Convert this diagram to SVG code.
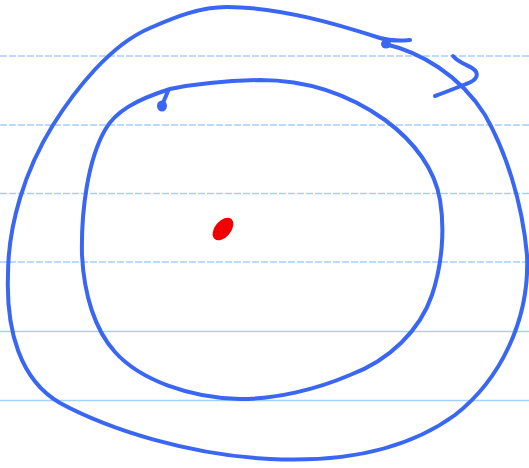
<svg xmlns="http://www.w3.org/2000/svg" width="529" height="468" viewBox="0 0 529 468">
<style>
.rule{stroke:#a6d0fb;stroke-width:1.3;fill:none}
.dash{stroke-dasharray:7 2}
.ink{stroke:#3966f2;stroke-width:4;fill:none;stroke-linecap:round;stroke-linejoin:round}
.blob{fill:#3966f2}
</style>
<rect width="529" height="468" fill="#ffffff"/>
<g id="rules">
<line class="rule dash" x1="0" y1="56" x2="529" y2="56"/>
<line class="rule dash" x1="0" y1="125" x2="529" y2="125"/>
<line class="rule dash" x1="0" y1="193.5" x2="529" y2="193.5"/>
<line class="rule dash" x1="0" y1="262" x2="529" y2="262"/>
<line class="rule" x1="0" y1="331.5" x2="529" y2="331.5"/>
<line class="rule" x1="0" y1="400.5" x2="529" y2="400.5"/>
</g>
<g id="outer-loop">
<path class="ink" d="M385,44 C420,52 460,75 485,115 C505,150 522,200 527,255 C530,320 500,380 455,415 C400,455 330,462 270,459 C190,455 110,430 60,403 C20,380 6,330 8,275 C8,225 25,170 53,125 C75,90 110,45 150,28 C175,17 200,7 227,7 C280,7 340,25 380,38 C390,41 400,41 410,40"/>
<ellipse class="blob" cx="386" cy="44" rx="5" ry="4.5"/>
<path class="ink" d="M453,56 C458,62 465,64 472,68 C480,73 478,80 466,84 C456,88 446,92 435,96"/>
</g>
<g id="inner-loop">
<path class="ink" d="M170,89 C195,84 220,81 260,80 C310,80 350,95 385,120 C415,142 435,170 440,200 C445,230 442,265 432,295 C420,330 390,360 350,375 C315,390 275,399 240,399 C190,398 140,380 115,352 C95,330 84,295 82,255 C81,210 88,160 105,130 C115,112 135,100 170,89"/>
<path class="ink" d="M168,91 L163,103"/>
<ellipse class="blob" cx="162" cy="106" rx="5" ry="5.5"/>
</g>
<g id="center-dot">
<ellipse cx="223" cy="229" rx="13" ry="8" transform="rotate(-50 223 229)" fill="#f00000"/>
</g>
</svg>
